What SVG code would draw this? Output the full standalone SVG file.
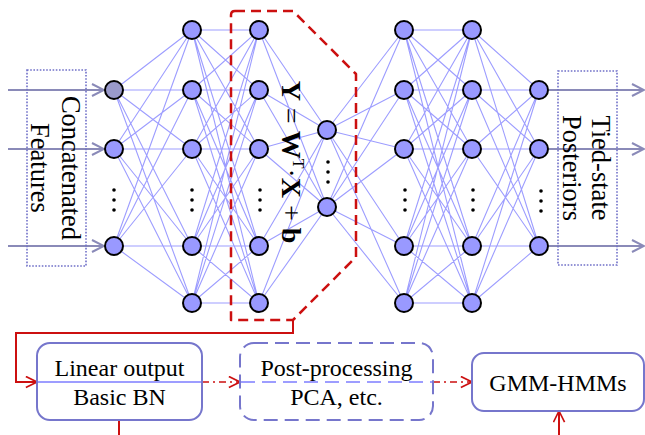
<svg xmlns="http://www.w3.org/2000/svg" width="645" height="435" viewBox="0 0 645 435">
<style>
.edge{fill:none;stroke:#9d9dff;stroke-width:1.1}
.node{fill:#9999ff;stroke:#000;stroke-width:2}
.node.gray{fill:#9a9acb}
.dot{fill:#000}
.io{fill:none;stroke:#8a8ab8;stroke-width:2}
.dotbox{fill:none;stroke:#7070c8;stroke-width:1.6;stroke-dasharray:1.6 1.6}
.box{fill:#fff;stroke:#7676cc;stroke-width:2}
.dashbox{fill:#fff;stroke:#7676cc;stroke-width:2;stroke-dasharray:14 7}
.div{stroke:#9d9dff;stroke-width:2}
.red{fill:none;stroke:#cc1010;stroke-width:2}
.redpoly{fill:none;stroke:#cc1010;stroke-width:2.5;stroke-dasharray:10 6;stroke-linejoin:round}
.dashdot{fill:none;stroke:#cc1010;stroke-width:1.6;stroke-dasharray:7 4 2 4}
text{font-family:"Liberation Serif","Times New Roman",serif;fill:#000}
.lbl{font-size:26.5px;text-anchor:middle}
.btxt{font-size:24px;text-anchor:middle}
</style>
<defs>
<marker id="arrG" viewBox="0 0 14 14" refX="13" refY="7" markerWidth="14" markerHeight="14" markerUnits="userSpaceOnUse" orient="auto">
<path d="M1,1 L13,7 L1,13" fill="none" stroke="#8a8ab8" stroke-width="2"/>
</marker>
<marker id="arrR" viewBox="0 0 14 14" refX="13" refY="7" markerWidth="13" markerHeight="13" markerUnits="userSpaceOnUse" orient="auto">
<path d="M1,1 L13,7 L1,13" fill="none" stroke="#cc1010" stroke-width="1.8"/>
</marker>
</defs>
<rect width="645" height="435" fill="#fff"/>

<g id="connectors">
<path class="edge" d="M114 90L192 30M114 90L192 90M114 90L192 149M114 90L192 246M114 90L192 303M114 149L192 30M114 149L192 90M114 149L192 149M114 149L192 246M114 149L192 303M114 246L192 30M114 246L192 90M114 246L192 149M114 246L192 246M114 246L192 303"/>
<path class="edge" d="M192 30L259 30M192 30L259 90M192 30L259 149M192 30L259 246M192 30L259 303M192 90L259 30M192 90L259 90M192 90L259 149M192 90L259 246M192 90L259 303M192 149L259 30M192 149L259 90M192 149L259 149M192 149L259 246M192 149L259 303M192 246L259 30M192 246L259 90M192 246L259 149M192 246L259 246M192 246L259 303M192 303L259 30M192 303L259 90M192 303L259 149M192 303L259 246M192 303L259 303"/>
<path class="edge" d="M259 30L327 130M259 30L327 207M259 90L327 130M259 90L327 207M259 149L327 130M259 149L327 207M259 246L327 130M259 246L327 207M259 303L327 130M259 303L327 207"/>
<path class="edge" d="M327 130L404 30M327 130L404 90M327 130L404 149M327 130L404 246M327 130L404 303M327 207L404 30M327 207L404 90M327 207L404 149M327 207L404 246M327 207L404 303"/>
<path class="edge" d="M404 30L472 30M404 30L472 90M404 30L472 149M404 30L472 246M404 30L472 303M404 90L472 30M404 90L472 90M404 90L472 149M404 90L472 246M404 90L472 303M404 149L472 30M404 149L472 90M404 149L472 149M404 149L472 246M404 149L472 303M404 246L472 30M404 246L472 90M404 246L472 149M404 246L472 246M404 246L472 303M404 303L472 30M404 303L472 90M404 303L472 149M404 303L472 246M404 303L472 303"/>
<path class="edge" d="M472 30L539 90M472 30L539 149M472 30L539 246M472 90L539 90M472 90L539 149M472 90L539 246M472 149L539 90M472 149L539 149M472 149L539 246M472 246L539 90M472 246L539 149M472 246L539 246M472 303L539 90M472 303L539 149M472 303L539 246"/>
<path class="io" d="M8 90L104 90" marker-end="url(#arrG)"/>
<path class="io" d="M8 149L104 149" marker-end="url(#arrG)"/>
<path class="io" d="M8 246L104 246" marker-end="url(#arrG)"/>
<path class="io" d="M549 90L644 90" marker-end="url(#arrG)"/>
<path class="io" d="M549 149L644 149" marker-end="url(#arrG)"/>
<path class="io" d="M549 246L644 246" marker-end="url(#arrG)"/>
<path class="red" d="M293 320L293 333L16 333L16 382L37 382" marker-end="url(#arrR)"/>
<path class="dashdot" d="M202 382L240 382" marker-end="url(#arrR)"/>
<path class="dashdot" d="M433 382L472 382" marker-end="url(#arrR)"/>
<path class="red" d="M119 420L119 435"/>
<path class="red" d="M559 435L559 411" marker-end="url(#arrR)"/>
</g>

<g id="bn-region">
<path class="redpoly" d="M235 11L293 11L356 74L356 257L293 320L231 320L231 15Q231 11 235 11Z"/>
</g>

<g id="input-box">
<rect class="dotbox" x="27" y="70" width="59" height="196"/>
<text class="lbl" transform="translate(62,168) rotate(90)">Concatenated</text>
<text class="lbl" transform="translate(31,168) rotate(90)">Features</text>
</g>
<g id="output-box">
<rect class="dotbox" x="558" y="71" width="59" height="194"/>
<text class="lbl" transform="translate(592,168) rotate(90)">Tied-state</text>
<text class="lbl" transform="translate(563,168) rotate(90)">Posteriors</text>
</g>

<g id="formula">
<text transform="translate(282,162) rotate(90)" text-anchor="middle" font-size="28"><tspan font-weight="bold">Y</tspan> = <tspan font-weight="bold">W</tspan><tspan font-size="16" dy="-11">T</tspan><tspan dy="11">·</tspan><tspan font-weight="bold">X</tspan> + <tspan font-weight="bold">b</tspan></text>
</g>

<g id="layer0">
<circle class="node gray" cx="114" cy="90" r="9"/>
<circle class="node" cx="114" cy="149" r="9"/>
<circle class="node" cx="114" cy="246" r="9"/>
<circle class="dot" cx="114" cy="190" r="1.8"/><circle class="dot" cx="114" cy="200" r="1.8"/><circle class="dot" cx="114" cy="210" r="1.8"/>
</g>
<g id="layer1">
<circle class="node" cx="192" cy="30" r="9"/>
<circle class="node" cx="192" cy="90" r="9"/>
<circle class="node" cx="192" cy="149" r="9"/>
<circle class="node" cx="192" cy="246" r="9"/>
<circle class="node" cx="192" cy="303" r="9"/>
<circle class="dot" cx="192" cy="190" r="1.8"/><circle class="dot" cx="192" cy="200" r="1.8"/><circle class="dot" cx="192" cy="210" r="1.8"/>
</g>
<g id="layer2">
<circle class="node" cx="259" cy="30" r="9"/>
<circle class="node" cx="259" cy="90" r="9"/>
<circle class="node" cx="259" cy="149" r="9"/>
<circle class="node" cx="259" cy="246" r="9"/>
<circle class="node" cx="259" cy="303" r="9"/>
<circle class="dot" cx="260" cy="190" r="1.8"/><circle class="dot" cx="260" cy="200" r="1.8"/><circle class="dot" cx="260" cy="210" r="1.8"/>
</g>
<g id="bottleneck">
<circle class="node" cx="327" cy="130" r="9"/>
<circle class="node" cx="327" cy="207" r="9"/>
<circle class="dot" cx="328" cy="162" r="1.8"/><circle class="dot" cx="328" cy="172" r="1.8"/><circle class="dot" cx="328" cy="182" r="1.8"/>
</g>
<g id="layer4">
<circle class="node" cx="404" cy="30" r="9"/>
<circle class="node" cx="404" cy="90" r="9"/>
<circle class="node" cx="404" cy="149" r="9"/>
<circle class="node" cx="404" cy="246" r="9"/>
<circle class="node" cx="404" cy="303" r="9"/>
<circle class="dot" cx="405" cy="190" r="1.8"/><circle class="dot" cx="405" cy="200" r="1.8"/><circle class="dot" cx="405" cy="210" r="1.8"/>
</g>
<g id="layer5">
<circle class="node" cx="472" cy="30" r="9"/>
<circle class="node" cx="472" cy="90" r="9"/>
<circle class="node" cx="472" cy="149" r="9"/>
<circle class="node" cx="472" cy="246" r="9"/>
<circle class="node" cx="472" cy="303" r="9"/>
<circle class="dot" cx="473" cy="190" r="1.8"/><circle class="dot" cx="473" cy="200" r="1.8"/><circle class="dot" cx="473" cy="210" r="1.8"/>
</g>
<g id="layer6">
<circle class="node" cx="539" cy="90" r="9"/>
<circle class="node" cx="539" cy="149" r="9"/>
<circle class="node" cx="539" cy="246" r="9"/>
<circle class="dot" cx="541" cy="191" r="1.8"/><circle class="dot" cx="541" cy="201" r="1.8"/><circle class="dot" cx="541" cy="211" r="1.8"/>
</g>

<g id="box-linear">
<rect class="box" x="37" y="343" width="165" height="77" rx="13"/>
<line class="div" x1="38" y1="382" x2="201" y2="382"/>
<text class="btxt" x="119.5" y="376">Linear output</text>
<text class="btxt" x="119.5" y="405">Basic BN</text>
</g>
<g id="box-post">
<rect class="dashbox" x="240" y="343" width="193" height="77" rx="14"/>
<line class="div" x1="241" y1="382" x2="432" y2="382" stroke-dasharray="14 7"/>
<text class="btxt" x="336.5" y="376">Post-processing</text>
<text class="btxt" x="336.5" y="405">PCA, etc.</text>
</g>
<g id="box-gmm">
<rect class="box" x="472" y="353" width="172" height="58" rx="12"/>
<text class="btxt" x="558" y="391">GMM-HMMs</text>
</g>
</svg>
